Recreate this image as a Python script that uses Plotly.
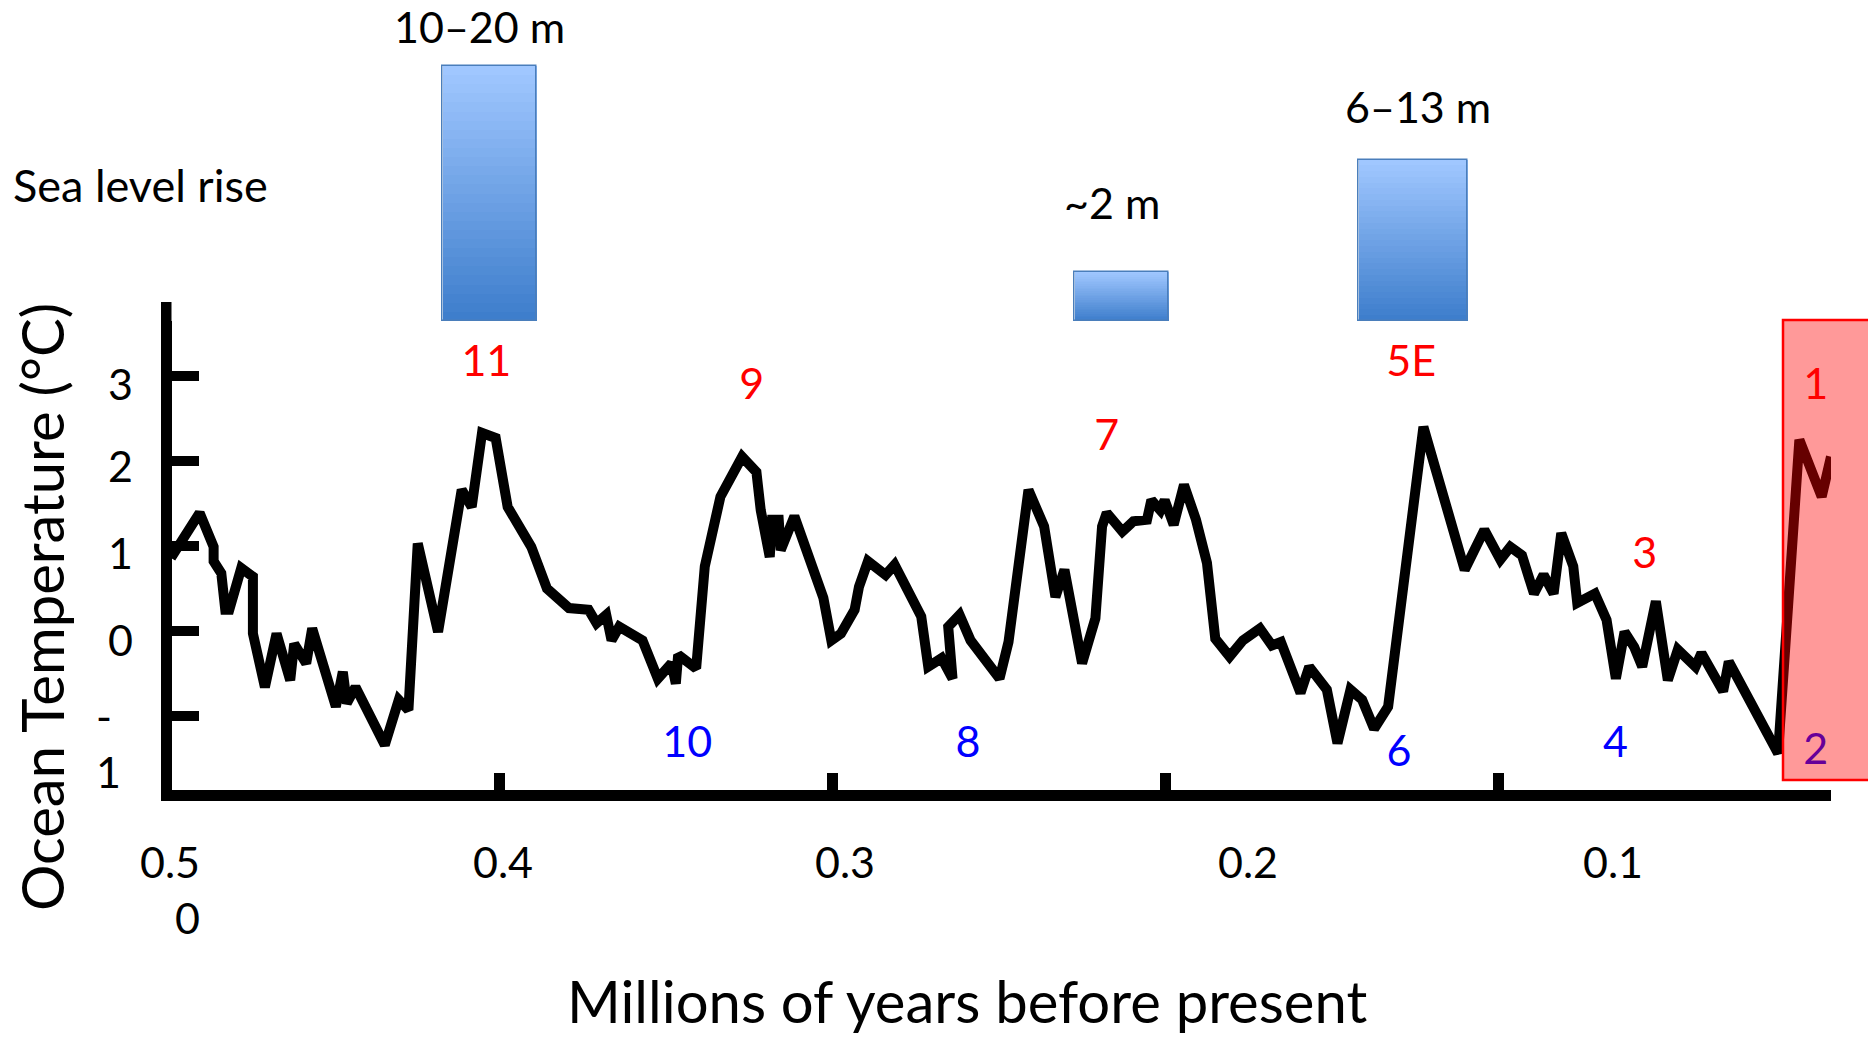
import plotly.graph_objects as go

W, H = 1868, 1038

# ---------------- data ----------------
age_ma = [
    0.4985, 0.4899, 0.4857, 0.4857, 0.4834, 0.4822, 0.4810, 0.4774, 0.4739, 0.4739,
    0.4703, 0.4668, 0.4627, 0.4615, 0.4579, 0.4561, 0.4490, 0.4469, 0.4457, 0.4431,
    0.4343, 0.4301, 0.4272, 0.4244, 0.4183, 0.4112, 0.4082, 0.4051, 0.4010, 0.3974,
    0.3903, 0.3856, 0.3790, 0.3731, 0.3707, 0.3678, 0.3662, 0.3639,
    0.3569, 0.3523, 0.3482, 0.3469, 0.3462, 0.3408, 0.3382, 0.3335, 0.3270, 0.3227,
    0.3214, 0.3187, 0.3180, 0.3160, 0.3154, 0.3113, 0.3026, 0.3002, 0.2973, 0.2932,
    0.2919, 0.2892, 0.2839, 0.2812, 0.2732, 0.2711, 0.2671, 0.2638, 0.2651, 0.2617,
    0.2584, 0.2497, 0.2470, 0.2410, 0.2363, 0.2329, 0.2302, 0.2249, 0.2209, 0.2189,
    0.2175, 0.2128, 0.2095, 0.2054, 0.2041, 0.2014, 0.2001, 0.1974, 0.1943, 0.1907,
    0.1874, 0.1849, 0.1806, 0.1766, 0.1715, 0.1679, 0.1652,
    0.1593, 0.1567, 0.1514, 0.1482, 0.1443, 0.1408, 0.1372, 0.1330, 0.1224, 0.1100,
    0.1041, 0.0993, 0.0963, 0.0928, 0.0904, 0.0892, 0.0863, 0.0833, 0.0810, 0.0774,
    0.0762, 0.0709, 0.0674, 0.0646, 0.0620, 0.0591, 0.0567, 0.0526, 0.0490, 0.0460,
    0.0407, 0.0389, 0.0324, 0.0307, 0.0159, 0.0095, 0.0028, 0.0000,
]
temp_c = [
    0.86, 1.39, 0.99, 0.82, 0.68, 0.25, 0.25, 0.74, 0.64, -0.03,
    -0.66, -0.03, -0.58, -0.15, -0.38, 0.03, -0.89, -0.48, -0.85, -0.66,
    -1.34, -0.81, -0.93, 1.03, -0.01, 1.66, 1.46, 2.33, 2.27, 1.46,
    0.99, 0.50, 0.27, 0.25, 0.09, 0.19, -0.11, 0.05,
    -0.11, -0.56, -0.38, -0.62, -0.28, -0.44, 0.76, 1.58, 2.05, 1.87,
    1.42, 0.87, 1.31, 1.31, 0.95, 1.35, 0.39, -0.11, -0.03, 0.25,
    0.52, 0.82, 0.66, 0.78, 0.17, -0.42, -0.32, -0.56, 0.05, 0.19,
    -0.11, -0.56, -0.13, 1.66, 1.23, 0.40, 0.72, -0.38, 0.15, 1.23,
    1.39, 1.17, 1.29, 1.31, 1.54, 1.42, 1.54, 1.25, 1.72, 1.31,
    0.80, -0.09, -0.30, -0.11, 0.03, -0.17, -0.13,
    -0.73, -0.42, -0.69, -1.32, -0.69, -0.81, -1.15, -0.89, 2.40, 0.72,
    1.19, 0.84, 0.99, 0.89, 0.60, 0.44, 0.66, 0.44, 1.15, 0.76,
    0.33, 0.44, 0.13, -0.56, -0.01, -0.19, -0.42, 0.35, -0.58, -0.22,
    -0.42, -0.26, -0.71, -0.36, -1.44, 2.25, 1.58, 2.05,
]

sea_age_ma = [0.4029, 0.2132, 0.1256]
sea_rise_m = [15.0, 2.9, 9.5]
sea_labels = ["10–20 m", "~2 m", "6–13 m"]

stage_labels = ["11", "9", "7", "5E", "1", "3", "10", "8", "6", "4", "2"]
stage_age_ma = [0.4038, 0.3241, 0.2175, 0.1261, 0.0046, 0.0559, 0.3435, 0.2592, 0.1297, 0.0647, 0.0046]
stage_temp_c = [3.13, 2.85, 2.25, 3.13, 2.86, 0.87, -1.36, -1.36, -1.46, -1.36, -1.44]
stage_kind = ["warm", "warm", "warm", "warm", "warm", "warm", "cold", "cold", "cold", "cold", "cold"]

x_tick_vals = [0.5, 0.4, 0.3, 0.2, 0.1]
x_tick_text = ["0.5<br>0", "0.4", "0.3", "0.2", "0.1"]
y_tick_vals = [3, 2, 1, 0, -1]
y_tick_text = ["3", "2", "1", "0", "-<br>1"]

# ---------------- styling / layout helpers ----------------
FONT = "Lato, 'Open Sans', sans-serif"
SMALL = 43


def px(x):
    return x / W


def py(y):
    return 1 - y / H


X_LEFT_PX, X_RIGHT_PX = 171.5, 1831.0
Y_BOTTOM_PX, Y_TOP_PX = 789.5, 301.7
PX_PER_MA = 3330.0
Y0_PX, PX_PER_C = 631.0, 85.0

x_range = [(X_RIGHT_PX - X_LEFT_PX) / PX_PER_MA, 0.0]
y_range = [(Y0_PX - Y_BOTTOM_PX) / PX_PER_C, (Y0_PX - Y_TOP_PX) / PX_PER_C]

BAR_BASE_PX = 321.0
PX_PER_M = 17.0
bar_widths = [0.0281, 0.0282, 0.0327]

fig = go.Figure()

# temperature curve
fig.add_trace(go.Scatter(
    x=age_ma, y=temp_c, mode="lines",
    line=dict(color="black", width=10),
    hoverinfo="skip", showlegend=False,
))

# stage labels (drawn as a trace so that the red box tints them)
stage_colors = ["#FF0000" if k == "warm" else "#0000FF" for k in stage_kind]
fig.add_trace(go.Scatter(
    x=stage_age_ma, y=stage_temp_c, mode="text", text=stage_labels,
    textposition="middle center",
    textfont=dict(family=FONT, size=SMALL, color=stage_colors),
    cliponaxis=False, hoverinfo="skip", showlegend=False,
))

# sea level bars with stepped vertical gradient
N = 28
top_rgb = (160, 199, 255)
bot_rgb = (62, 126, 204)
for k in range(N):
    f = k / (N - 1)
    c = tuple(round(top_rgb[i] + (bot_rgb[i] - top_rgb[i]) * f) for i in range(3))
    frac = 1 - k / N
    fig.add_trace(go.Bar(
        x=sea_age_ma, y=[v * frac for v in sea_rise_m], width=bar_widths,
        xaxis="x", yaxis="y2",
        marker=dict(color="rgb(%d,%d,%d)" % c, line=dict(width=0)),
        hoverinfo="skip", showlegend=False,
    ))
fig.add_trace(go.Bar(
    x=sea_age_ma, y=sea_rise_m, width=bar_widths, xaxis="x", yaxis="y2",
    marker=dict(color="rgba(0,0,0,0)", line=dict(width=1.5, color="#4A7EBB")),
    hoverinfo="skip", showlegend=False,
))

annotations = []

# sea level labels
sea_label_pos = [(479.5, 26.7), (1111.5, 202), (1418, 106)]
for t, (lx, ly) in zip(sea_labels, sea_label_pos):
    annotations.append(dict(
        text=t, x=px(lx), y=py(ly), xref="paper", yref="paper",
        xanchor="center", yanchor="middle", showarrow=False,
        font=dict(family=FONT, size=SMALL, color="black"),
    ))

annotations.append(dict(
    text="Sea level rise", x=px(11), y=py(185), xref="paper", yref="paper",
    xanchor="left", yanchor="middle", showarrow=False,
    font=dict(family=FONT, size=45, color="black"),
))

# axis titles
annotations.append(dict(
    text="Ocean Temperature (°C)", x=px(41), y=py(607), xref="paper", yref="paper",
    xanchor="center", yanchor="middle", textangle=-90, showarrow=False,
    font=dict(family=FONT, size=58, color="black"),
))
annotations.append(dict(
    text="Millions of years before present", x=px(967), y=py(1000), xref="paper", yref="paper",
    xanchor="center", yanchor="middle", showarrow=False,
    font=dict(family=FONT, size=58, color="black"),
))

# x tick labels (placed as in the original slide, relative to the x axis domain)
x_label_xshift = [4, 4, 13, 83, 115]
x_label_yshift = [-28, 0, 0, 0, 0]
for v, t, xs, ys in zip(x_tick_vals, x_tick_text, x_label_xshift, x_label_yshift):
    frac = (x_range[0] - v) / (x_range[0] - x_range[1])
    annotations.append(dict(
        text=t, x=frac, y=py(861), xref="x domain", yref="paper",
        xanchor="center", yanchor="middle", align="right",
        xshift=xs, yshift=ys, showarrow=False,
        font=dict(family=FONT, size=SMALL, color="black"),
    ))

# y tick labels
y_label_x = [120, 120, 120, 120, 94]
y_label_anchor = ["center", "center", "center", "center", "left"]
y_label_yshift = [-7, -4, -6, -8, -27]
for v, t, lx, xa, ys in zip(y_tick_vals, y_tick_text, y_label_x, y_label_anchor, y_label_yshift):
    annotations.append(dict(
        text=t, x=px(lx), y=v, xref="paper", yref="y",
        xanchor=xa, yanchor="middle", align="left",
        yshift=ys, showarrow=False,
        font=dict(family=FONT, size=SMALL, color="black"),
    ))

# present-day warming box
shapes = [dict(
    type="rect", xref="paper", yref="paper",
    x0=px(1783), x1=px(1872), y0=py(780), y1=py(320),
    fillcolor="rgba(255,0,0,0.4)", line=dict(color="#FF0000", width=2.5),
    layer="above",
)]

fig.update_layout(
    width=W, height=H,
    margin=dict(l=0, r=0, t=0, b=0, pad=0),
    paper_bgcolor="white", plot_bgcolor="white",
    barmode="overlay", bargap=0,
    showlegend=False,
    xaxis=dict(
        domain=[px(X_LEFT_PX), px(X_RIGHT_PX)], range=x_range, anchor="y",
        showline=True, linewidth=11, linecolor="black",
        ticks="inside", tickvals=[0.4, 0.3, 0.2, 0.1], ticklen=17, tickwidth=11, tickcolor="black",
        showticklabels=False, showgrid=False, zeroline=False, fixedrange=True,
    ),
    yaxis=dict(
        domain=[py(Y_BOTTOM_PX), py(Y_TOP_PX)], range=y_range, anchor="x",
        showline=True, linewidth=11, linecolor="black",
        ticks="inside", tickvals=[3, 2, 1, 0, -1], ticklen=27, tickwidth=10, tickcolor="black",
        showticklabels=False, showgrid=False, zeroline=False, fixedrange=True,
    ),
    yaxis2=dict(
        domain=[py(BAR_BASE_PX), 1.0], range=[0, BAR_BASE_PX / PX_PER_M], anchor="x",
        visible=False, showgrid=False, zeroline=False, fixedrange=True,
    ),
    annotations=annotations,
    shapes=shapes,
)

fig.write_html("out.html", config={"displayModeBar": False})
